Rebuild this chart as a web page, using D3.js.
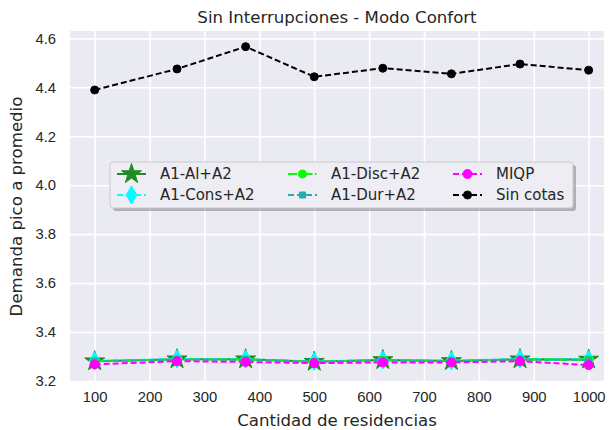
<!DOCTYPE html>
<html>
<head>
<meta charset="utf-8">
<script src="https://cdn.jsdelivr.net/npm/d3@7"></script>
<style>
  html, body { margin: 0; padding: 0; background: #ffffff; }
  svg { display: block; font-family: "DejaVu Sans", sans-serif; }
</style>
</head>
<body>
<svg id="chart" width="609" height="430"></svg>
<script>
// Number of households simulated
const residencias = [100, 250, 375, 500, 625, 750, 875, 1000];

// Average peak-to-average demand ratio per method
const a1AlA2    = [3.281, 3.289, 3.289, 3.279, 3.286, 3.282, 3.289, 3.288];
const a1ConsA2  = [3.282, 3.290, 3.289, 3.280, 3.286, 3.283, 3.290, 3.288];
const a1DiscA2  = [3.281, 3.288, 3.288, 3.279, 3.285, 3.282, 3.288, 3.287];
const a1DurA2   = [3.280, 3.288, 3.287, 3.279, 3.285, 3.281, 3.288, 3.286];
const miqp      = [3.268, 3.281, 3.278, 3.273, 3.276, 3.276, 3.281, 3.265];
const sinCotas  = [4.389, 4.475, 4.566, 4.443, 4.478, 4.455, 4.495, 4.470];

const xTicks = [100, 200, 300, 400, 500, 600, 700, 800, 900, 1000];
const yTicks = [3.2, 3.4, 3.6, 3.8, 4.0, 4.2, 4.4, 4.6];

const seriesNames = ["A1-Al+A2", "A1-Cons+A2", "A1-Disc+A2", "A1-Dur+A2", "MIQP", "Sin cotas"];

// Drawing style for each series
const styles = {
  "A1-Al+A2":   { color: "#228B22", dash: null,        marker: "star",    size: 10.5 },
  "A1-Cons+A2": { color: "#00FFFF", dash: "6,3",       marker: "diamond", size: 9 },
  "A1-Disc+A2": { color: "#00FF00", dash: "9,2.5,1.5,2.5", marker: "circle", size: 4 },
  "A1-Dur+A2":  { color: "#20B2AA", dash: "6,3",       marker: "square",  size: 3 },
  "MIQP":       { color: "#FF00FF", dash: "6,3",       marker: "circle",  size: 4.5 },
  "Sin cotas":  { color: "#000000", dash: "6,3",       marker: "circle",  size: 4 }
};

const seriesValues = [a1AlA2, a1ConsA2, a1DiscA2, a1DurA2, miqp, sinCotas];
const series = seriesNames.map((name, i) => ({
  name,
  points: residencias.map((r, j) => ({ x: r, y: seriesValues[i][j] }))
}));

const margin = { left: 70, right: 5, top: 31, bottom: 48 };
const W = 609, H = 430;
const plotW = W - margin.left - margin.right;
const plotH = H - margin.top - margin.bottom;

const x = d3.scaleLinear().domain([55, 1028]).range([margin.left, margin.left + plotW]);
const y = d3.scaleLinear().domain([3.196, 4.63]).range([margin.top + plotH, margin.top]);

const svg = d3.select("#chart");
const textColor = "#262626";

// Plot background
svg.append("rect")
  .attr("x", margin.left).attr("y", margin.top)
  .attr("width", plotW).attr("height", plotH)
  .attr("fill", "#EAEAF2");

// Grid lines via axes
const xAxis = d3.axisBottom(x).tickValues(xTicks).tickSize(-plotH).tickPadding(9).tickFormat(d3.format("d"));
const yAxis = d3.axisLeft(y).tickValues(yTicks).tickSize(-plotW).tickPadding(14).tickFormat(d3.format(".1f"));

const gx = svg.append("g").attr("transform", `translate(0,${margin.top + plotH})`).call(xAxis);
const gy = svg.append("g").attr("transform", `translate(${margin.left},0)`).call(yAxis);
[gx, gy].forEach(g => {
  g.select(".domain").remove();
  g.selectAll(".tick line").attr("stroke", "#ffffff").attr("stroke-width", 1.6);
  g.selectAll(".tick text").attr("fill", textColor).style("font-size", "14.8px");
});

// Marker shapes
function markerPath(kind, s) {
  if (kind === "star") return d3.symbol().type(d3.symbolStar).size(s * s / 0.89)();
  if (kind === "circle") return d3.symbol().type(d3.symbolCircle).size(Math.PI * s * s)();
  if (kind === "square") return `M${-s},${-s}H${s}V${s}H${-s}Z`;
  if (kind === "diamond") { const w = s * 0.6; return `M0,${-s}L${w},0L0,${s}L${-w},0Z`; }
}

svg.append("clipPath").attr("id", "plotclip")
  .append("rect").attr("x", margin.left).attr("y", margin.top).attr("width", plotW).attr("height", plotH);

const line = d3.line().x(d => x(d.x)).y(d => y(d.y));
const plot = svg.append("g").attr("clip-path", "url(#plotclip)");

series.forEach(s => {
  const st = styles[s.name];
  const g = plot.append("g");
  g.append("path")
    .attr("d", line(s.points))
    .attr("fill", "none")
    .attr("stroke", st.color)
    .attr("stroke-width", 2)
    .attr("stroke-dasharray", st.dash);
  g.selectAll("path.mk").data(s.points).join("path")
    .attr("class", "mk")
    .attr("transform", d => `translate(${x(d.x)},${y(d.y)})`)
    .attr("d", markerPath(st.marker, st.size))
    .attr("fill", st.color)
    .attr("stroke", st.color)
    .attr("stroke-width", 1);
});

// Title and axis labels
svg.append("text")
  .attr("x", margin.left + plotW / 2).attr("y", 23)
  .attr("text-anchor", "middle").attr("fill", textColor)
  .style("font-size", "16.6px")
  .text("Sin Interrupciones - Modo Confort");

svg.append("text")
  .attr("x", margin.left + plotW / 2).attr("y", 426)
  .attr("text-anchor", "middle").attr("fill", textColor)
  .style("font-size", "16.6px")
  .text("Cantidad de residencias");

svg.append("text")
  .attr("transform", `translate(22,${margin.top + plotH / 2}) rotate(-90)`)
  .attr("text-anchor", "middle").attr("fill", textColor)
  .style("font-size", "16.6px")
  .text("Demanda pico a promedio");

// Legend (three columns, two rows)
const legend = svg.append("g");
const lx = 110, ly = 162, lw = 463, lh = 46;
legend.append("rect")
  .attr("x", lx + 3).attr("y", ly + 3).attr("width", lw).attr("height", lh)
  .attr("rx", 3).attr("fill", "#000000").attr("opacity", 0.25);
legend.append("rect")
  .attr("x", lx).attr("y", ly).attr("width", lw).attr("height", lh)
  .attr("rx", 3).attr("fill", "#EDEDF3").attr("stroke", "#CCCCCC").attr("stroke-width", 1);

const colX = [117, 288, 453];
const rowY = [174, 195];
seriesNames.forEach((name, i) => {
  const st = styles[name];
  const cx = colX[Math.floor(i / 2)], cy = rowY[i % 2];
  const g = legend.append("g").attr("transform", `translate(${cx},${cy})`);
  g.append("line")
    .attr("x1", 0).attr("x2", 29).attr("y1", 0).attr("y2", 0)
    .attr("stroke", st.color).attr("stroke-width", 2)
    .attr("stroke-dasharray", st.dash);
  g.append("path")
    .attr("transform", "translate(14.5,0)")
    .attr("d", markerPath(st.marker, st.size))
    .attr("fill", st.color).attr("stroke", st.color).attr("stroke-width", 1);
  g.append("text")
    .attr("x", 43).attr("y", 0).attr("dy", "0.35em")
    .attr("fill", textColor).style("font-size", "15px")
    .text(name);
});
</script>
</body>
</html>
